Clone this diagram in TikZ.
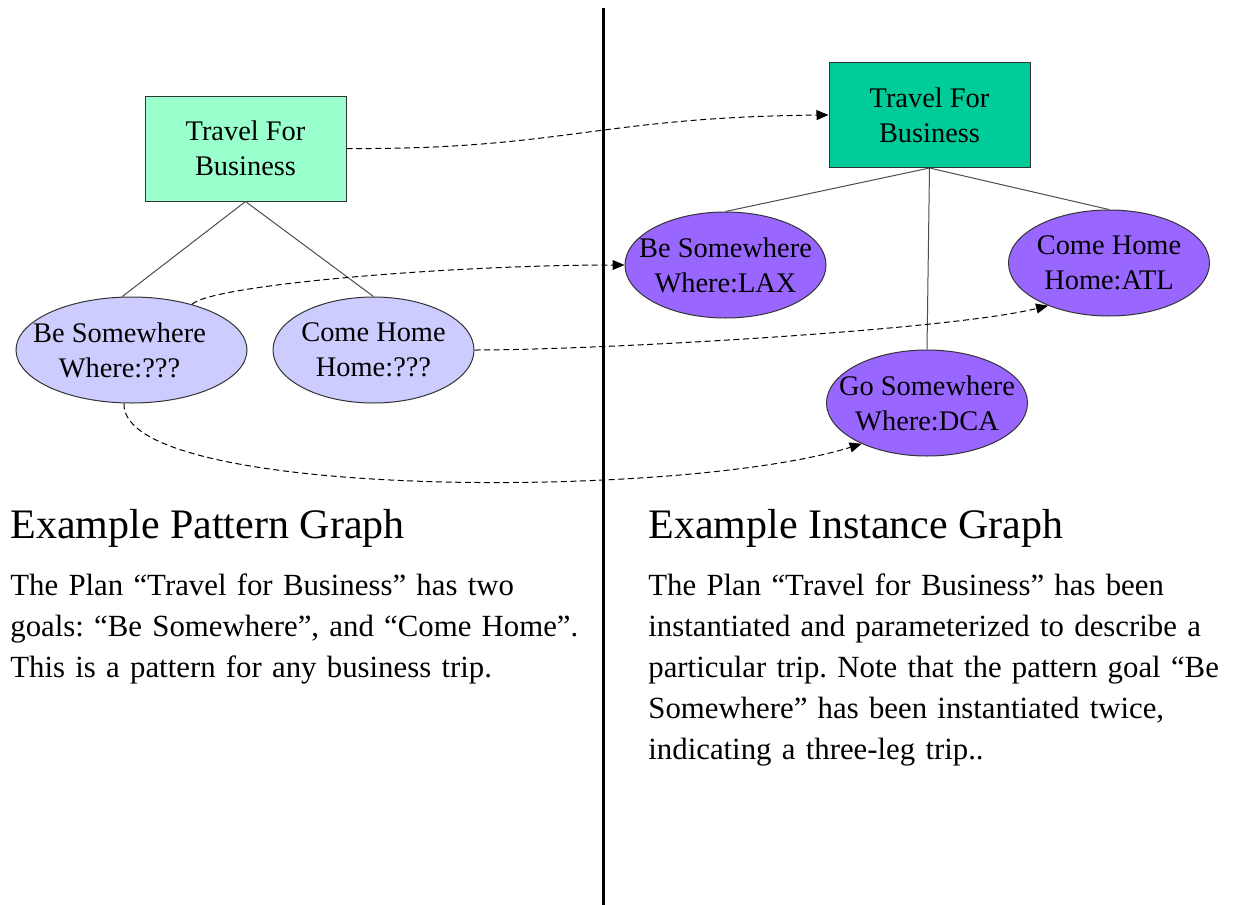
\documentclass[tikz,border=0pt]{standalone}
\usepackage{fontspec}
\setmainfont{Liberation Serif}
\usetikzlibrary{arrows.meta,shapes.geometric}
\definecolor{planpale}{HTML}{99FFCC}
\definecolor{plandeep}{HTML}{00CC99}
\definecolor{goalpale}{HTML}{CCCCFF}
\definecolor{goaldeep}{HTML}{9966FF}
\frenchspacing

\begin{document}
\begin{tikzpicture}[x=0.5pt, y=-0.5pt,
	plan/.style={rectangle, draw=black!80, line width=0.5pt, minimum width=100.5pt, minimum height=52.5pt, align=center, font=\fontsize{14.2}{17.5}\selectfont},
	goal/.style={ellipse, draw=black!80, line width=0.5pt, minimum width=100.5pt, minimum height=53pt, inner sep=0pt},
	goaltext/.style={align=center, font=\fontsize{14.2}{17.5}\selectfont},
	tree/.style={draw=black!70, line width=0.5pt},
	link/.style={-{Triangle[length=6pt,width=5pt]}, dash pattern=on 3pt off 1.8pt, line width=0.5pt},
	heading/.style={anchor=base west, inner sep=0pt, font=\fontsize{21}{25}\selectfont},
	body/.style={anchor=north west, inner sep=0pt, text width=300pt, align=left, font=\fontsize{15.4}{20.5}\selectfont}]
		\useasboundingbox (0,0) rectangle (1238,905);
		\draw[line width=1.5pt] (603,8) -- (603,905);
		
		\node[plan, fill=planpale] (ltrip) at (245.5,148.5) {Travel For\\Business};
		\node[plan, fill=plandeep] (rtrip) at (929.5,115) {Travel For\\Business};
		
		\node[goal, fill=goalpale, minimum width=115.5pt, label={[goaltext, xshift=-6pt]center:{Be Somewhere\\Where:???}}] (lbe) at (131.5,350) {};
		\node[goal, fill=goalpale, label={[goaltext]center:{Come Home\\Home:???}}] (lhome) at (373.5,350) {};
		\node[goal, fill=goaldeep, label={[goaltext]center:{Be Somewhere\\Where:LAX}}] (rbe) at (725.5,265) {};
		\node[goal, fill=goaldeep, label={[goaltext]center:{Come Home\\Home:ATL}}] (rhome) at (1109,263) {};
		\node[goal, fill=goaldeep, label={[goaltext]center:{Go Somewhere\\Where:DCA}}] (rgo) at (927,403) {};
		
		\draw[tree] (ltrip.south) -- (lbe.100) (ltrip.south) -- (lhome.north);
		\draw[tree] (rtrip.south) -- (rbe.north) (rtrip.south) -- (rhome.north)
			(rtrip.south) -- (rgo.north);
		
		\draw[link] (ltrip.east) .. controls (560,150) and (600,117) .. (rtrip.west);
		\draw[link] (lbe.37) .. controls (210,285) and (450,265) .. (rbe.west);
		\draw[link] (lhome.east) .. controls (600,350) and (950,330) .. (rhome.215);
		\draw[link] (lbe.262) .. controls (120,500) and (680,500) .. (rgo.212);
		
		\node[heading] (lhead) at (10,538) {Example Pattern Graph};
		\node[heading] (rhead) at (648,538) {Example Instance Graph};
		\node[body] (lbody) at (10,573) {The Plan “Travel for Business” has two\\goals: “Be Somewhere”, and “Come Home”.\\This is a pattern for any business trip.};
		\node[body] (rbody) at (648,573) {The Plan “Travel for Business” has been\\instantiated and parameterized to describe a\\particular trip. Note that the pattern goal “Be\\Somewhere” has been instantiated twice,\\indicating a three-leg trip..};
	\end{tikzpicture}
\end{document}
